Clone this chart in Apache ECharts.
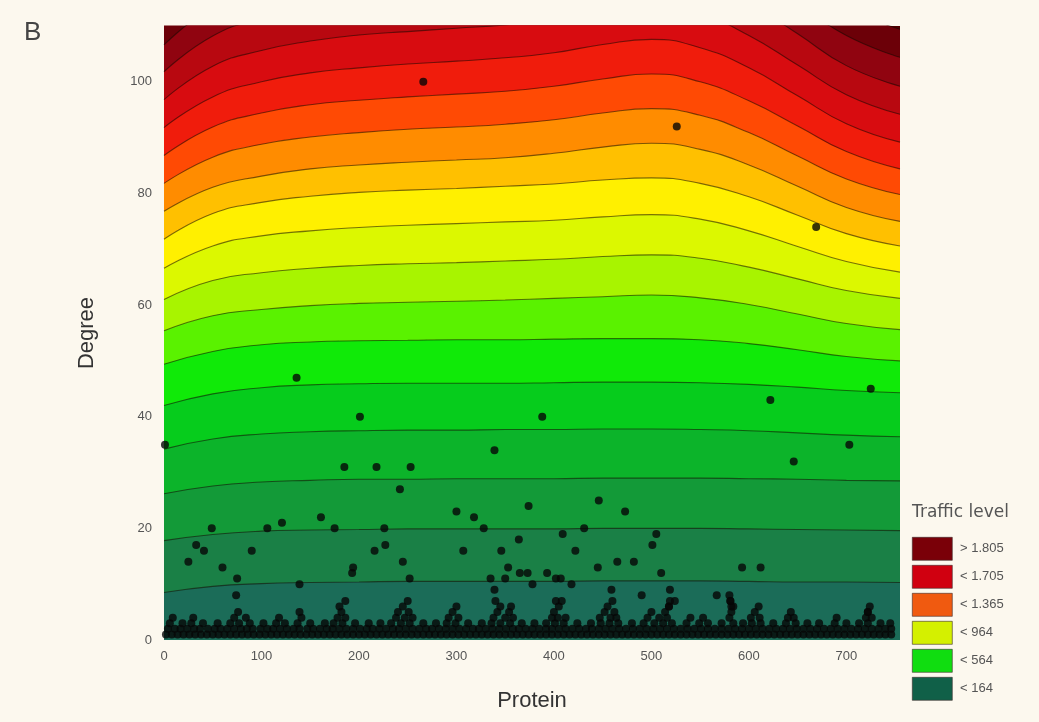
<!DOCTYPE html>
<html>
<head>
<meta charset="utf-8">
<script src="https://cdn.jsdelivr.net/npm/echarts@6/dist/echarts.min.js"></script>
<style>
html,body{margin:0;padding:0;background:#fcf8ee;}
#chart{width:1039px;height:722px;}
</style>
</head>
<body>
<div id="chart"></div>
<script>
// Protein positions at which each contour line's Degree value was read
const xStations = [0, 50, 100, 150, 200, 250, 300, 350, 400, 450, 500, 550, 600, 650, 700, 755];

// Contour lines (Degree values at xStations), lowest level first
const contourLines = [
  [8.5, 9.6, 10.1, 10.3, 10.4, 10.5, 10.5, 10.5, 10.5, 10.6, 10.6, 10.6, 10.5, 10.4, 10.4, 10.3],
  [17.8, 18.9, 19.5, 19.7, 19.8, 19.9, 19.9, 19.9, 19.9, 20.0, 20.0, 20.0, 19.9, 19.8, 19.7, 19.6],
  [26.2, 27.6, 28.3, 28.6, 28.8, 28.8, 28.9, 28.9, 28.9, 29.0, 29.0, 29.0, 28.9, 28.8, 28.6, 28.5],
  [34.2, 36.0, 36.9, 37.3, 37.5, 37.6, 37.6, 37.7, 37.7, 37.8, 37.8, 37.7, 37.5, 37.1, 36.7, 36.4],
  [42.0, 44.1, 45.2, 45.7, 45.9, 46.0, 46.0, 46.0, 46.1, 46.2, 46.2, 46.1, 45.8, 45.3, 44.7, 44.3],
  [49.4, 51.7, 52.9, 53.4, 53.6, 53.7, 53.8, 53.8, 53.9, 54.0, 54.0, 53.8, 53.1, 52.0, 50.8, 50.0],
  [55.4, 58.1, 59.2, 59.9, 60.3, 60.5, 60.7, 60.9, 61.2, 61.5, 61.8, 61.3, 60.1, 58.4, 56.7, 55.6],
  [61.0, 64.4, 65.8, 66.6, 67.1, 67.4, 67.6, 67.9, 68.2, 68.7, 69.0, 68.4, 66.8, 64.7, 62.6, 61.2],
  [66.6, 70.6, 72.4, 73.3, 73.9, 74.3, 74.6, 74.9, 75.2, 75.8, 76.2, 75.4, 73.3, 70.5, 67.8, 65.9],
  [71.8, 76.4, 78.4, 79.5, 80.2, 80.6, 80.9, 81.3, 81.7, 82.4, 82.8, 81.8, 79.4, 76.1, 72.8, 70.6],
  [76.8, 81.1, 83.1, 84.4, 85.1, 85.6, 86.0, 86.4, 87.2, 88.3, 89.0, 87.9, 85.1, 81.3, 77.5, 75.0],
  [81.8, 86.5, 88.8, 90.1, 90.9, 91.5, 91.9, 92.4, 93.2, 94.4, 95.2, 94.0, 90.9, 86.7, 82.6, 79.8],
  [86.8, 91.9, 94.4, 95.9, 96.7, 97.3, 97.8, 98.3, 99.2, 100.5, 101.4, 100.0, 96.6, 92.1, 87.5, 84.4],
  [91.8, 97.3, 100.0, 101.6, 102.5, 103.2, 103.7, 104.3, 105.2, 106.7, 107.6, 106.1, 102.5, 97.5, 92.5, 89.2],
  [96.8, 102.8, 105.6, 107.3, 108.4, 109.0, 109.6, 110.2, 111.3, 112.8, 113.8, 112.2, 108.3, 103.0, 97.7, 94.2],
  [101.8, 108.2, 111.3, 113.1, 114.2, 114.9, 115.5, 116.2, 117.3, 118.9, 120.0, 118.3, 114.2, 108.6, 102.9, 99.2],
  [106.6, 113.4, 116.7, 118.6, 119.8, 120.6, 121.2, 121.9, 123.1, 124.8, 126.0, 124.3, 120.0, 114.1, 108.3, 104.4],
  [111.2, 118.5, 122.0, 124.1, 125.3, 126.2, 126.8, 127.6, 128.9, 130.8, 132.0, 130.2, 125.7, 119.6, 113.5, 109.4]
];

// Fill colour of the band below each contour line (index i = below line i), last = above top line
const bandColors = ['#1b6c58', '#1a8046', '#139a38', '#0cb42a', '#06cc1c', '#10ea08', '#5af200',
  '#a8f400', '#dcf800', '#fff000', '#ffc000', '#ff8c00', '#ff4a04', '#f01c0c', '#d80c10',
  '#b80810', '#900410', '#6c0008', '#520000'];

// Legend
const legendTitle = 'Traffic level';
const legendLabels = ['> 1.805', '< 1.705', '< 1.365', '< 964', '< 564', '< 164'];
const legendColors = ['#7a0008', '#d00010', '#f05a10', '#d4f000', '#10dd10', '#106048'];

// Scattered proteins [Protein, Degree]
const scatterPoints = [
  [266,100],[526,92],[669,74],[136,47],[725,45],[622,43],[201,40],[388,40],[1,35],[339,34],
  [703,35],[646,32],[185,31],[218,31],[253,31],[242,27],[446,25],[300,23],[473,23],[374,24],
  [318,22],[328,20],[49,20],[106,20],[121,21],[161,22],[175,20],[226,20],[409,19],[431,20],
  [505,19],[501,17],[33,17],[41,16],[25,14],[90,16],[60,13],[75,11],[74,8],[139,10],
  [193,12],[194,13],[216,16],[227,17],[245,14],[252,11],[307,16],[346,16],[364,18],[335,11],
  [339,9],[365,12],[373,12],[378,10],[402,11],[418,10],[422,16],[465,14],[482,14],[510,12],
  [445,13],[593,13],[612,13],[581,7],[722,5],[402,7],[459,9],[524,7],[519,9],[567,8],
  [350,11],[353,13],[393,12],[490,8],[518,6],[580,8],[582,6],[407,11]
];

// Dense low-degree proteins: Protein positions for each degree
const baseDeg1 = [2,8,14,20,26,32,38,44,50,56,62,68,74,80,86,92,98,104,110,116,122,128,134,140,146,152,158,164,170,176,182,188,194,200,206,212,218,224,230,236,242,248,254,260,266,272,278,284,290,296,302,308,314,320,326,332,338,344,350,356,362,368,374,380,386,392,398,404,410,416,422,428,434,440,446,452,458,464,470,476,482,488,494,500,506,512,518,524,530,536,542,548,554,560,566,572,578,584,590,596,602,608,614,620,626,632,638,644,650,656,662,668,674,680,686,692,698,704,710,716,722,728,734,740,746];
const baseDeg2 = [4,11,17,24,31,37,45,52,58,65,72,79,85,91,99,106,112,119,126,133,139,147,153,160,167,173,180,187,194,201,208,214,221,228,235,241,248,255,262,269,275,282,289,296,303,310,317,323,330,337,344,351,358,364,371,378,385,392,398,405,412,419,426,433,439,446,453,460,467,474,481,488,495,502,509,516,523,530,537,544,551,558,565,572,579,586,593,600,607,614,621,628,635,642,649,656,663,670,677,684,691,698,705,712,719,726,733,740,746];
const baseDeg3 = [6,19,28,40,55,68,77,88,102,115,124,137,150,165,174,183,196,210,222,233,243,252,266,279,290,299,312,326,336,345,355,367,380,392,401,410,424,438,448,457,466,480,492,503,512,521,536,549,558,572,584,594,603,612,625,638,648,660,672,688,700,713,722,735,745];
const baseDeg4 = [9,30,72,84,118,141,178,186,238,247,255,292,302,338,350,358,398,404,412,447,458,464,496,508,516,540,553,580,602,611,640,646,690,720,726];
const baseDeg5 = [76,139,182,240,251,296,342,354,400,452,462,500,514,582,606,643,722];
const baseDeg6 = [180,245,300,345,356,405,455,518,584,610,724];
const baseDeg7 = [186,250,340,408,460,519,581];

const baseRows = [baseDeg1, baseDeg2, baseDeg3, baseDeg4, baseDeg5, baseDeg6, baseDeg7];

const chart = echarts.init(document.getElementById('chart'), null, {renderer: 'canvas'});

const series = [];
for (let i = contourLines.length - 1; i >= 0; i--) {
  series.push({
    type: 'line',
    data: xStations.map((x, j) => [x, contourLines[i][j]]),
    smooth: 0.5,
    symbol: 'none',
    silent: true,
    animation: false,
    clip: true,
    lineStyle: {color: 'rgba(20,10,0,0.55)', width: 1.1},
    areaStyle: {color: bandColors[i], opacity: 1, origin: 'start'},
    z: 2
  });
}

const pts = scatterPoints.slice();
baseRows.forEach((row, k) => row.forEach(x => pts.push([x, k + 1])));

series.push({
  type: 'scatter',
  data: pts,
  symbol: 'circle',
  symbolSize: 8,
  itemStyle: {color: '#060606'},
  silent: true,
  animation: false,
  z: 5
});

const font = 'Liberation Sans, Arial, sans-serif';
const graphics = [
  {type: 'text', left: 24, top: 20, style: {text: 'B', font: '26px ' + font, fill: '#444'}},
  {type: 'text', left: 912, top: 504, style: {text: legendTitle, font: '17px DejaVu Sans, sans-serif', fill: '#555'}}
];
legendLabels.forEach((lab, i) => {
  const top = 537 + i * 28;
  graphics.push({type: 'rect', left: 912, top: top, shape: {width: 40, height: 23},
    style: {fill: legendColors[i], stroke: '#3a2a2a', lineWidth: 0.6}});
  graphics.push({type: 'text', left: 960, top: top + 5, style: {text: lab, font: '13px ' + font, fill: '#555'}});
});

chart.setOption({
  backgroundColor: '#fcf8ee',
  animation: false,
  grid: {left: 164, right: 139, top: 26, bottom: 82, show: true, backgroundColor: bandColors[bandColors.length - 1], borderWidth: 0},
  xAxis: {
    type: 'value', min: 0, max: 755, interval: 100,
    name: 'Protein', nameLocation: 'middle', nameGap: 50,
    nameTextStyle: {fontSize: 22, color: '#333', fontFamily: font},
    axisLine: {show: false}, axisTick: {show: false}, splitLine: {show: false},
    axisLabel: {color: '#555', fontSize: 13, fontFamily: font, margin: 10, showMaxLabel: false}
  },
  yAxis: {
    type: 'value', min: 0, max: 110, interval: 20,
    name: 'Degree', nameLocation: 'middle', nameGap: 66, nameRotate: 90,
    nameTextStyle: {fontSize: 22, color: '#333', fontFamily: font},
    axisLine: {show: false}, axisTick: {show: false}, splitLine: {show: false},
    axisLabel: {color: '#555', fontSize: 13, fontFamily: font, margin: 12, showMaxLabel: false}
  },
  graphic: graphics,
  series: series
});
</script>
</body>
</html>
